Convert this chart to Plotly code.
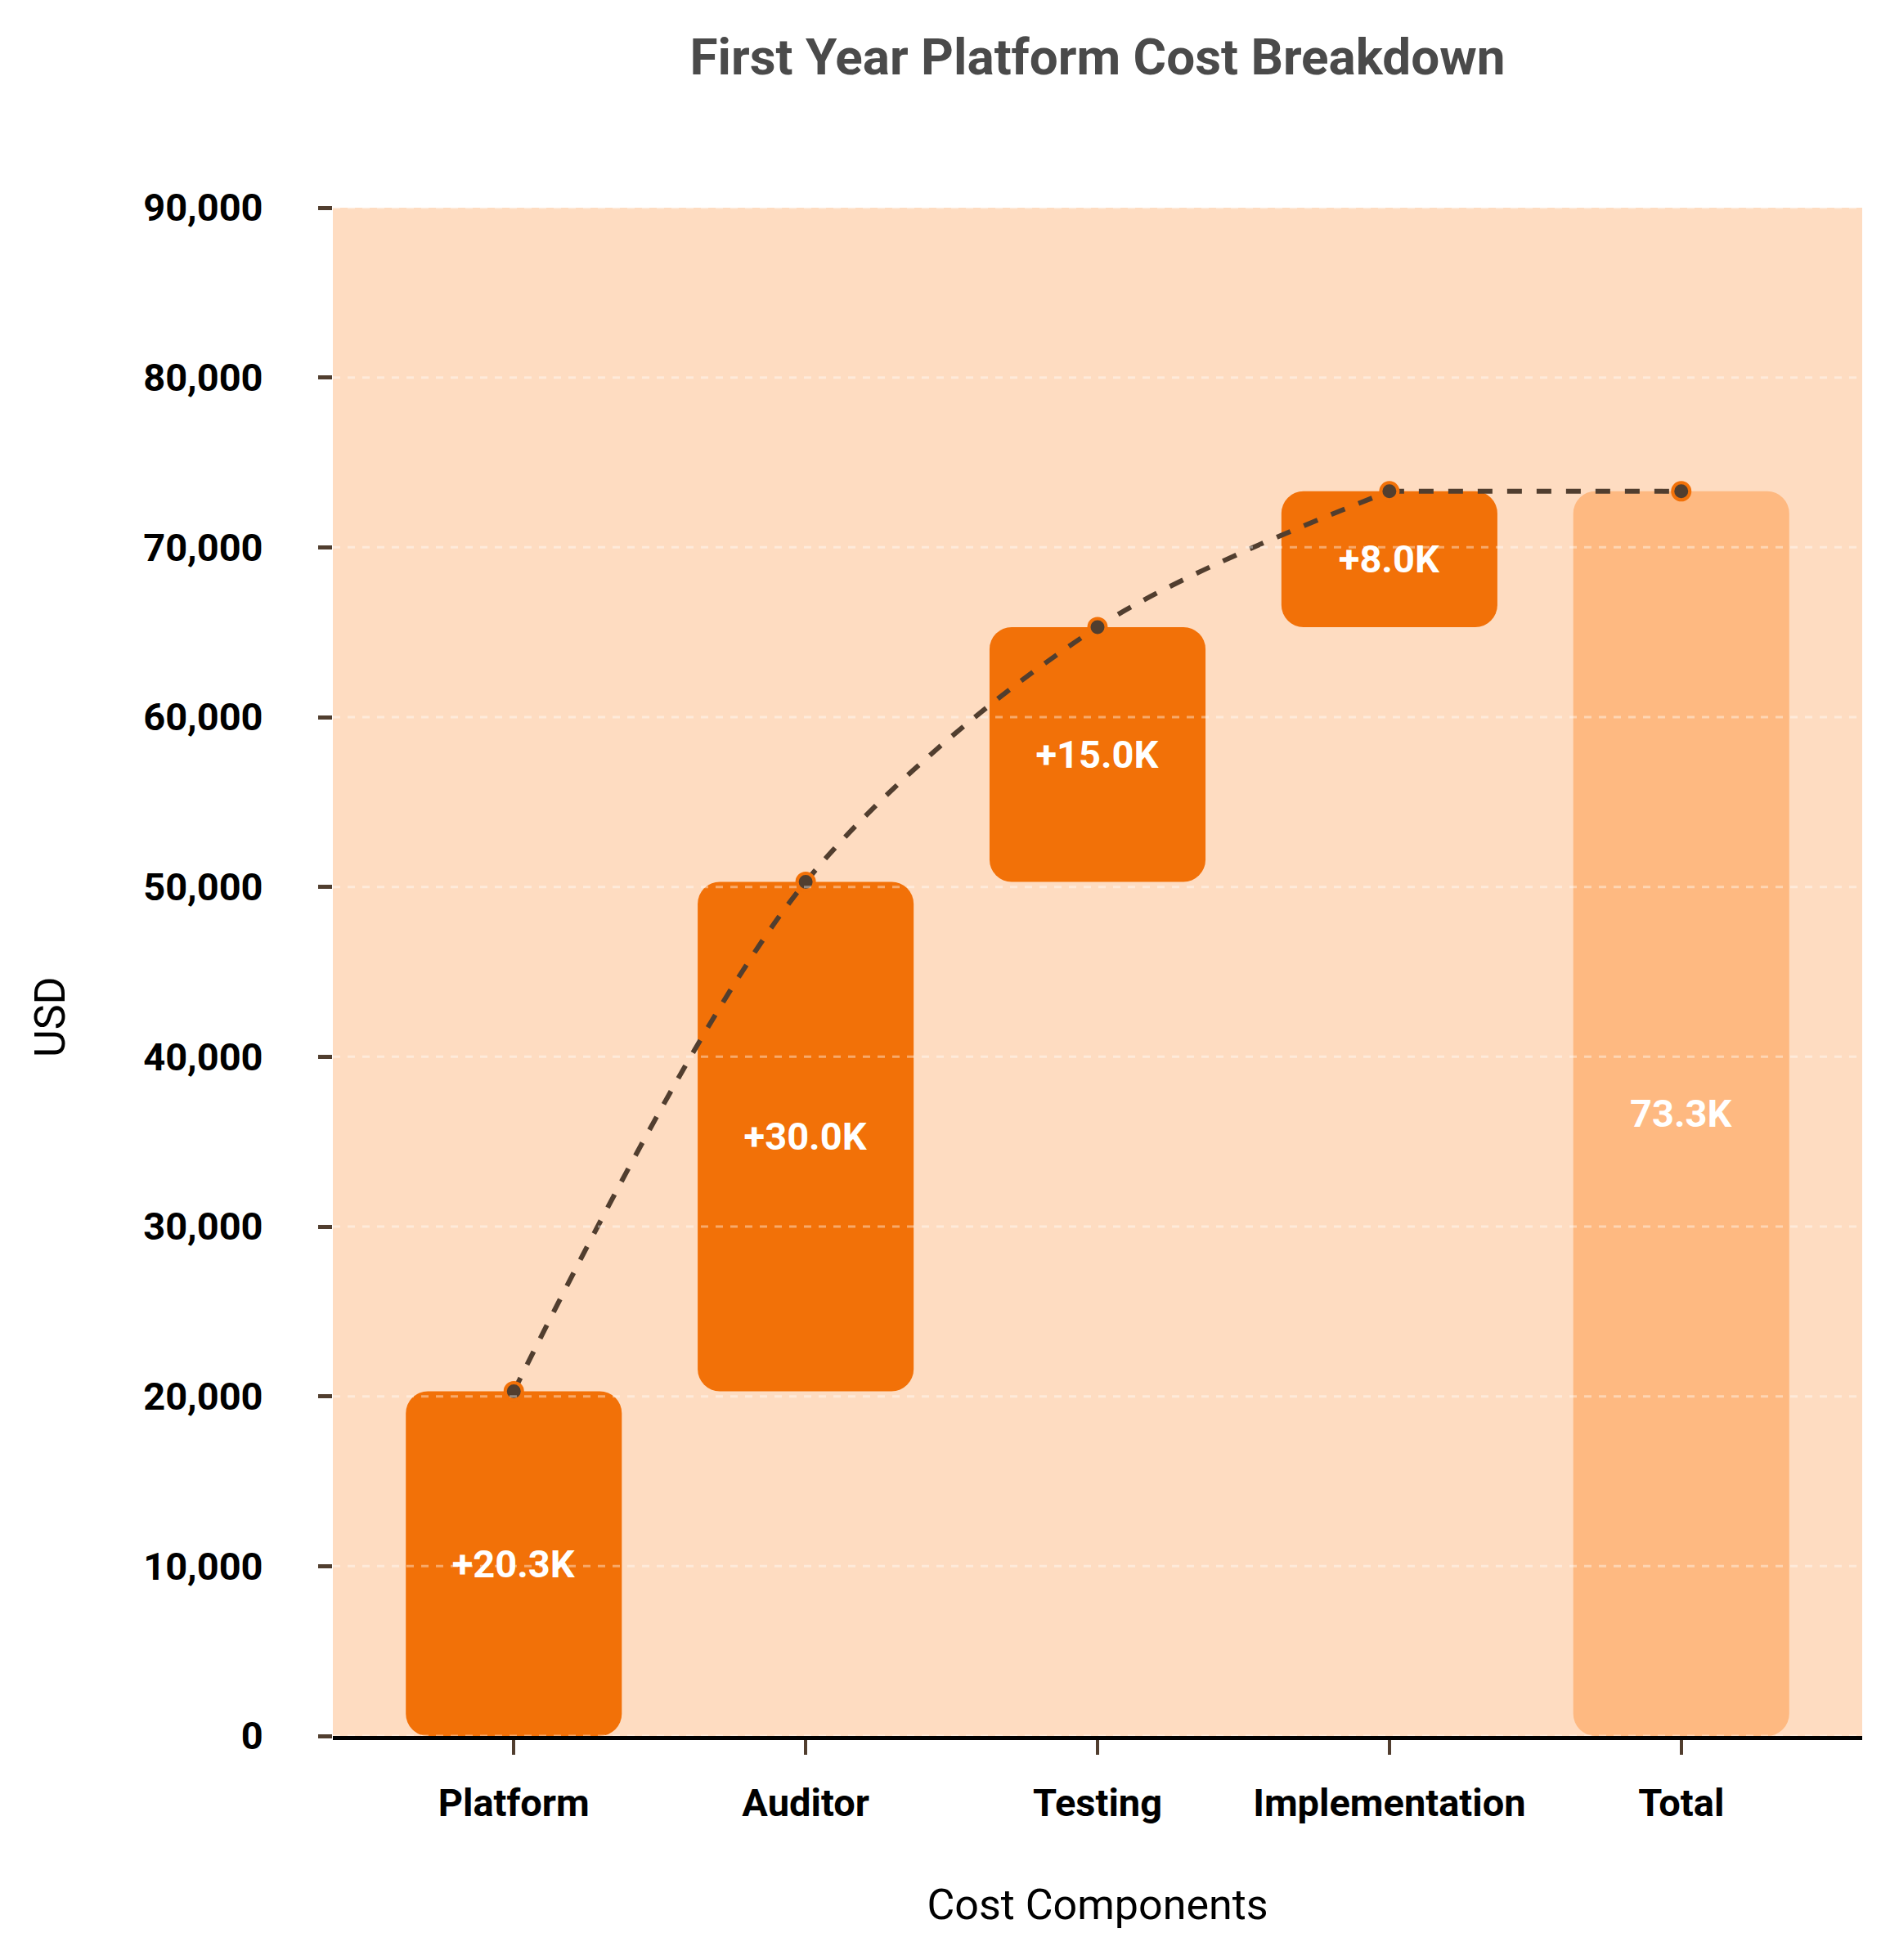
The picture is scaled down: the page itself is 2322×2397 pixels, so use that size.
import plotly.graph_objects as go

categories = ['Platform', 'Auditor', 'Testing', 'Implementation', 'Total']
deltas = [20300, 30000, 15000, 8000]
total = 73300
y_ticks = [0, 10000, 20000, 30000, 40000, 50000, 60000, 70000, 80000, 90000]

orange = '#F27108'
light_orange = '#FEB981'
brown = '#513E2F'
peach = '#FEDCC1'

# floating bars: base = running total before each step
bases, heights, tops = [], [], []
running = 0
for d in deltas:
    bases.append(running)
    heights.append(d)
    running += d
    tops.append(running)
bases.append(0)
heights.append(total)
tops.append(total)

labels = [f"+{d / 1000:.1f}K" for d in deltas] + [f"{total / 1000:.1f}K"]
colors = [orange] * len(deltas) + [light_orange]

W, H = 2306, 2381
L, R, T, B = 399, 37, 246, 266
plot_w, plot_h = W - L - R, H - T - B

fig = go.Figure()
fig.add_trace(go.Bar(
    x=categories, y=heights, base=bases,
    width=0.74,
    marker=dict(color=colors, cornerradius=27, line=dict(width=0)),
    text=labels, textposition='inside', insidetextanchor='middle',
    textfont=dict(family='Roboto', size=47, color='white', weight='bold'),
    constraintext='none',
    showlegend=False,
))

# connector: curved through the steps, straight into the total
line_style = dict(color=brown, width=6, dash='dash')
marker_style = dict(color=brown, size=21, line=dict(color=orange, width=4))
fig.add_trace(go.Scatter(
    x=categories[:len(deltas)], y=tops[:len(deltas)], mode='lines',
    line=dict(**line_style, shape='spline', smoothing=0.9),
    showlegend=False,
))
fig.add_trace(go.Scatter(
    x=categories[len(deltas) - 1:], y=tops[len(deltas) - 1:], mode='lines',
    line=line_style, showlegend=False,
))
fig.add_trace(go.Scatter(
    x=categories, y=tops, mode='markers', marker=marker_style, showlegend=False,
))

# dashed grid drawn above the bars
for v in y_ticks:
    fig.add_hline(y=v, line=dict(color='rgba(255,255,255,0.4)', width=3, dash='dash'), layer='above')

fig.update_layout(
    width=W, height=H, autosize=False,
    margin=dict(l=L, r=R, t=T, b=B),
    paper_bgcolor='white', plot_bgcolor=peach,
    font=dict(family='Roboto', color='black'),
    title=dict(text='First Year Platform Cost Breakdown', x=0.5, xref='paper',
               y=1 - 61 / H, yanchor='middle',
               font=dict(family='Roboto', size=62, color='#4A4A4A', weight='bold')),
)
fig.update_xaxes(
    range=[-0.62, 4.62],
    showline=True, linecolor='black', linewidth=5,
    ticks='outside', ticklen=18, tickwidth=4, tickcolor=brown,
    ticklabelstandoff=19,
    tickfont=dict(family='Roboto', size=47, color='black', weight='bold'),
    showgrid=False,
    title=dict(text='Cost Components', font=dict(family='Roboto', size=52, color='black'), standoff=81),
)
fig.update_yaxes(
    range=[0, 90000], tickvals=y_ticks, tickformat=',',
    showline=False, zeroline=False, showgrid=False,
    ticks='outside', ticklen=17, tickwidth=5, tickcolor=brown,
    ticklabelstandoff=58,
    tickfont=dict(family='Roboto', size=47, color='black', weight='bold'),
)
fig.add_annotation(
    text='USD', textangle=-90, xref='paper', yref='paper',
    x=(53 - L) / plot_w, y=(H - B - 1236) / plot_h,
    xanchor='center', yanchor='middle', showarrow=False,
    font=dict(family='Roboto', size=52, color='black'),
)

fig.write_html("out.html")
